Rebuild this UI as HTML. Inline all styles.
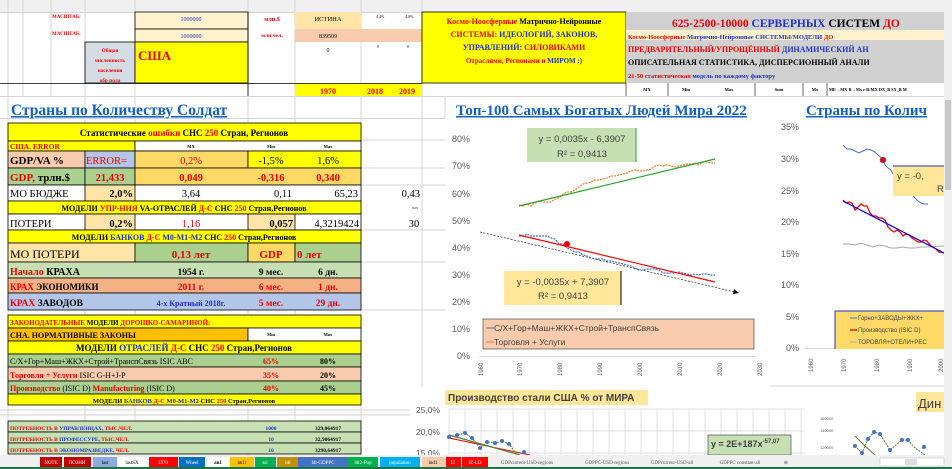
<!DOCTYPE html><html><head><meta charset="utf-8"><style>
body{margin:0;background:#fff}svg{display:block}
</style></head><body>
<svg width="952" height="469" viewBox="0 0 952 469" xmlns="http://www.w3.org/2000/svg" font-family="'Liberation Serif', serif" font-weight="bold">
<rect width="952" height="469" fill="#fff"/>
<rect x="0" y="0" width="952" height="12" fill="#f0f0f0"/>
<g stroke="#d4d4d4" stroke-width="1">
<line x1="0" y1="12.5" x2="952" y2="12.5"/>
<line x1="8" y1="0" x2="8" y2="455"/><line x1="23" y1="0" x2="23" y2="96"/><line x1="51" y1="0" x2="51" y2="96"/>
<line x1="85" y1="0" x2="85" y2="455"/><line x1="135" y1="0" x2="135" y2="455"/><line x1="248" y1="0" x2="248" y2="455"/>
<line x1="295" y1="0" x2="295" y2="455"/><line x1="361" y1="0" x2="361" y2="455"/><line x1="422" y1="0" x2="422" y2="455"/>
<line x1="0" y1="96.5" x2="952" y2="96.5"/>
<line x1="0" y1="118.5" x2="445" y2="118.5"/>
<line x1="361" y1="140" x2="445" y2="140"/><line x1="361" y1="168" x2="445" y2="168"/><line x1="361" y1="185" x2="445" y2="185"/>
<line x1="361" y1="230" x2="445" y2="230"/><line x1="361" y1="262" x2="445" y2="262"/><line x1="361" y1="310" x2="445" y2="310"/>
<line x1="0" y1="415" x2="410" y2="415"/><line x1="0" y1="410" x2="410" y2="410"/>
</g>
<rect x="135" y="12" width="113" height="17" fill="#fff2cc" stroke="#000" stroke-width=".8"/>
<rect x="135" y="29" width="113" height="13" fill="#fff2cc" stroke="#000" stroke-width=".8"/>
<rect x="295" y="12" width="66" height="17" fill="#ffe4a8"/>
<rect x="295" y="29" width="66" height="13" fill="#f8cbad"/>
<rect x="361" y="29" width="61" height="13" fill="#f8cbad"/>
<rect x="85" y="42" width="50" height="41" fill="#d6dce4" stroke="#000" stroke-width=".8"/>
<rect x="135" y="42" width="113" height="41" fill="#ffff00" stroke="#000" stroke-width=".8"/>
<rect x="295" y="83" width="127" height="13" fill="#ffff00"/>
<line x1="0" y1="83.5" x2="422" y2="83.5" stroke="#000" stroke-width=".8"/>
<line x1="248" y1="12" x2="248" y2="96" stroke="#000" stroke-width=".8"/>
<text x="52" y="18" font-size="5" fill="#e00">МАСШТАБ:</text>
<text x="52" y="35" font-size="5" fill="#e00">МАСШТАБ:</text>
<text x="191" y="21" font-size="6" fill="#2030c0" text-anchor="middle" font-weight="normal">1000000</text>
<text x="191" y="38" font-size="6" fill="#2030c0" text-anchor="middle" font-weight="normal">1000000</text>
<text x="272" y="21" font-size="6" fill="#e00" text-anchor="middle">млн.$</text>
<text x="272" y="37" font-size="5.5" fill="#e00" text-anchor="middle">млн.чел.</text>
<text x="328" y="21" font-size="6.5" text-anchor="middle" font-weight="normal">ИСТИНА</text>
<text x="328" y="38" font-size="6" text-anchor="middle" font-weight="normal">839509</text>
<text x="328" y="52" font-size="6" text-anchor="middle" font-weight="normal">0</text>
<text x="376" y="18" font-size="4" font-weight="normal">4,4%</text><text x="405" y="18" font-size="4" font-weight="normal">4,0%</text>
<text x="377" y="48" font-size="4" font-weight="normal">0</text><text x="407" y="48" font-size="4" font-weight="normal">0</text>
<text x="110" y="52" font-size="5.3" fill="#e00" text-anchor="middle">Общая</text>
<text x="110" y="62" font-size="5.3" fill="#e00" text-anchor="middle">численность</text>
<text x="110" y="72" font-size="5.3" fill="#e00" text-anchor="middle">населения</text>
<text x="110" y="82" font-size="5.3" fill="#e00" text-anchor="middle">обр пола</text>
<text x="138" y="60" font-size="13" fill="#e00">США</text>
<text x="328" y="94" font-size="8" fill="#e00" text-anchor="middle">1970</text>
<text x="375" y="94" font-size="8" fill="#e00" text-anchor="middle">2018</text>
<text x="407" y="94" font-size="8" fill="#e00" text-anchor="middle">2019</text>
<rect x="422" y="12" width="204" height="71" fill="#ffff00" stroke="#000" stroke-width=".8"/>
<text x="524" y="24" font-size="8" text-anchor="middle"><tspan fill="#e00">Космо-Ноосферные</tspan> Матрично-Нейронные</text>
<text x="524" y="37" font-size="8" text-anchor="middle"><tspan fill="#e00">СИСТЕМЫ:</tspan> <tspan fill="#2030c0">ИДЕОЛОГИЙ, ЗАКОНОВ,</tspan></text>
<text x="524" y="50" font-size="8" text-anchor="middle"><tspan fill="#2030c0">УПРАВЛЕНИЙ:</tspan> <tspan fill="#e00">СИЛОВИКАМИ</tspan></text>
<text x="524" y="63" font-size="7" text-anchor="middle"><tspan fill="#e00">Отраслями, Регионами и</tspan> <tspan fill="#2030c0">МИРОМ :)</tspan></text>
<rect x="626" y="12" width="318" height="71" fill="#d0d0d0"/>
<rect x="626" y="30" width="318" height="10" fill="#fff2cc"/>
<text x="672" y="27" font-size="11.5"><tspan fill="#e00">625-2500-10000</tspan> <tspan fill="#2030c0">СЕРВЕРНЫХ</tspan> СИСТЕМ <tspan fill="#e00">ДО</tspan></text>
<text x="628" y="39" font-size="6.5"><tspan fill="#e00">Космо-Ноосферные</tspan> <tspan fill="#2030c0">Матрично-Нейронные СИСТЕМЫ/МОДЕЛИ</tspan> <tspan fill="#e00">ДО</tspan></text>
<text x="628" y="52" font-size="8"><tspan fill="#e00">ПРЕДВАРИТЕЛЬНЫЙ/УПРОЩЁННЫЙ</tspan> <tspan fill="#2030c0">ДИНАМИЧЕСКИЙ АН</tspan></text>
<text x="628" y="65" font-size="8">ОПИСАТЕЛЬНАЯ СТАТИСТИКА, ДИСПЕРСИОННЫЙ АНАЛИ</text>
<text x="628" y="78" font-size="6.5"><tspan fill="#e00">21-50 статистическая</tspan> <tspan fill="#2030c0">модель по каждому фактору</tspan></text>
<g stroke="#000" stroke-width=".6"><line x1="626" y1="83" x2="626" y2="96"/><line x1="668" y1="83" x2="668" y2="96"/><line x1="755" y1="83" x2="755" y2="96"/><line x1="803" y1="83" x2="803" y2="96"/><line x1="827" y1="83" x2="827" y2="96"/></g>
<text x="647" y="91" font-size="4.5" text-anchor="middle">MX</text><text x="686" y="91" font-size="4.5" text-anchor="middle">Min</text><text x="729" y="91" font-size="4.5" text-anchor="middle">Max</text><text x="779" y="91" font-size="4.5" text-anchor="middle">Sum</text>
<text x="815" y="91" font-size="4.5" text-anchor="middle">Mx</text><text x="829" y="91" font-size="4.3">ME→MX R→Mx r-R/MX DX_B SX_B M</text>
<text x="11" y="115" font-size="15.5" fill="#1060c0" text-decoration="underline">Страны по Количеству Солдат</text>
<text x="456" y="115" font-size="15" fill="#1060c0" text-decoration="underline">Топ-100 Самых Богатых Людей Мира 2022</text>
<text x="806" y="115" font-size="15" fill="#1060c0" text-decoration="underline">Страны по Колич</text>
<line x1="445" y1="97" x2="445" y2="118" stroke="#d4d4d4"/>
<g stroke="#000" stroke-width=".8">
<rect x="8" y="123" width="353" height="18" fill="#ffff00"/>
<rect x="8" y="141" width="127" height="10" fill="#ffff00"/>
<rect x="135" y="141" width="226" height="10" fill="#fff"/>
<rect x="8" y="151" width="77" height="17" fill="#f8cbad"/>
<rect x="85" y="151" width="50" height="17" fill="#b4c6e7"/>
<rect x="135" y="151" width="113" height="17" fill="#ffd966"/>
<rect x="248" y="151" width="113" height="17" fill="#ffff00"/>
<rect x="8" y="168" width="77" height="17" fill="#a9d08e"/>
<rect x="85" y="168" width="50" height="17" fill="#a9d08e"/>
<rect x="135" y="168" width="226" height="17" fill="#ffd966"/>
<rect x="8" y="185" width="353" height="16" fill="#fff"/>
<rect x="85" y="185" width="50" height="16" fill="#ffe4a8"/>
<rect x="8" y="201" width="353" height="13" fill="#ffff00"/>
<rect x="8" y="214" width="353" height="16" fill="#fff"/>
<rect x="85" y="214" width="50" height="16" fill="#ffe4a8"/>
<rect x="248" y="214" width="47" height="16" fill="#ffe4a8"/>
<rect x="8" y="230" width="353" height="13" fill="#ffff00"/>
<rect x="8" y="243" width="127" height="19" fill="#ffe4a8"/>
<rect x="135" y="243" width="113" height="19" fill="#a9d08e"/>
<rect x="248" y="243" width="47" height="19" fill="#ffd966"/>
<rect x="295" y="243" width="66" height="19" fill="#a9d08e"/>
<rect x="8" y="262" width="353" height="16" fill="#c6e0b4"/>
<rect x="8" y="278" width="353" height="15" fill="#f4b183"/>
<rect x="8" y="293" width="353" height="17" fill="#b4c6e7"/>
<rect x="8" y="315" width="353" height="13" fill="#ffff00"/>
<rect x="8" y="328" width="240" height="13" fill="#ffc000"/>
<rect x="248" y="328" width="113" height="13" fill="#fff"/>
<rect x="8" y="341" width="353" height="13" fill="#ffff00"/>
<rect x="8" y="354" width="353" height="13" fill="#a9d08e"/>
<rect x="8" y="367" width="353" height="14" fill="#f8cbad"/>
<rect x="8" y="381" width="353" height="13" fill="#a9d08e"/>
<rect x="8" y="394" width="353" height="11" fill="#ffff00"/>
<rect x="8" y="421" width="353" height="11" fill="#c6e0b4"/>
<rect x="8" y="432" width="353" height="11" fill="#c6e0b4"/>
<rect x="8" y="443" width="353" height="11" fill="#c6e0b4"/>
</g>
<text x="184" y="136" font-size="9" text-anchor="middle">Статистические <tspan fill="#e00">ошибки</tspan> СНС <tspan fill="#e00">250</tspan> Стран, Регионов</text>
<text x="10" y="149" font-size="7.5" fill="#e00">США. ERROR</text>
<text x="191" y="148" font-size="4.5" text-anchor="middle">MX</text><text x="271" y="148" font-size="4.5" text-anchor="middle">Min</text><text x="328" y="148" font-size="4.5" text-anchor="middle">Max</text>
<text x="10" y="164" font-size="11">GDP/VA %</text>
<text x="86" y="164" font-size="10.5" fill="#e00" font-weight="normal">ERROR=</text>
<text x="191" y="164" font-size="10.5" fill="#e00" text-anchor="middle" font-weight="normal">0,2%</text>
<text x="271" y="164" font-size="10.5" text-anchor="middle" font-weight="normal">-1,5%</text>
<text x="328" y="164" font-size="10.5" text-anchor="middle" font-weight="normal">1,6%</text>
<text x="10" y="181" font-size="11" fill="#e00">GDP, <tspan fill="#000">трлн.$</tspan></text>
<text x="110" y="181" font-size="10.5" fill="#e00" text-anchor="middle">21,433</text>
<text x="191" y="181" font-size="10.5" fill="#e00" text-anchor="middle">0,049</text>
<text x="271" y="181" font-size="10.5" fill="#e00" text-anchor="middle">-0,316</text>
<text x="328" y="181" font-size="10.5" fill="#e00" text-anchor="middle">0,340</text>
<text x="10" y="197" font-size="10.5" font-weight="normal">МО БЮДЖЕ</text>
<text x="133" y="197" font-size="10.5" text-anchor="end">2,0%</text>
<text x="191" y="197" font-size="10.5" text-anchor="middle" font-weight="normal">3,64</text>
<text x="292" y="197" font-size="10.5" text-anchor="end" font-weight="normal">0,11</text>
<text x="358" y="197" font-size="10.5" text-anchor="end" font-weight="normal">65,23</text>
<text x="420" y="197" font-size="10.5" text-anchor="end" font-weight="normal">0,43</text>
<text x="184" y="211" font-size="8" text-anchor="middle">МОДЕЛИ <tspan fill="#e00">УПР-НИЯ</tspan> VA-ОТРАСЛЕЙ <tspan fill="#e00">Д-С</tspan> СНС <tspan fill="#e00">250</tspan> Стран,Регионов</text>
<text x="412" y="209" font-size="3.5" font-weight="normal">0,05</text>
<text x="10" y="227" font-size="10.5" font-weight="normal">ПОТЕРИ</text>
<text x="133" y="227" font-size="10.5" text-anchor="end">0,2%</text>
<text x="191" y="227" font-size="10.5" fill="#e00" text-anchor="middle" font-weight="normal">1,16</text>
<text x="293" y="227" font-size="10.5" text-anchor="end">0,057</text>
<text x="359" y="227" font-size="10.5" text-anchor="end" font-weight="normal">4,3219424</text>
<text x="414" y="227" font-size="10.5" text-anchor="middle" font-weight="normal">30</text>
<text x="184" y="240" font-size="8" text-anchor="middle">МОДЕЛИ <tspan fill="#2030c0">БАНКОВ</tspan> <tspan fill="#e00">Д-С</tspan> <tspan fill="#2030c0">M0-M1-M2</tspan> СНС <tspan fill="#e00">250</tspan> Стран,Регионов</text>
<text x="10" y="258" font-size="12" font-weight="normal">МО ПОТЕРИ</text>
<text x="191" y="258" font-size="11" fill="#e00" text-anchor="middle">0,13 лет</text>
<text x="271" y="258" font-size="11" fill="#e00" text-anchor="middle">GDP</text>
<text x="297" y="258" font-size="11" fill="#e00">0 лет</text>
<text x="10" y="275" font-size="10"><tspan fill="#e00">Начало</tspan> КРАХА</text>
<text x="191" y="275" font-size="9.5" text-anchor="middle">1954 г.</text>
<text x="271" y="275" font-size="9.5" text-anchor="middle">9 мес.</text>
<text x="328" y="275" font-size="9.5" text-anchor="middle">6 дн.</text>
<text x="10" y="290" font-size="9"><tspan fill="#e00">КРАХ</tspan> ЭКОНОМИКИ</text>
<text x="191" y="290" font-size="9.5" fill="#e00" text-anchor="middle">2011 г.</text>
<text x="271" y="290" font-size="9.5" fill="#e00" text-anchor="middle">6 мес.</text>
<text x="328" y="290" font-size="9.5" fill="#e00" text-anchor="middle">1 дн.</text>
<text x="10" y="306" font-size="9.5"><tspan fill="#e00">КРАХ</tspan> ЗАВОДОВ</text>
<text x="191" y="306" font-size="8" fill="#2030c0" text-anchor="middle">4-х Кратный 2018г.</text>
<text x="271" y="306" font-size="9.5" fill="#e00" text-anchor="middle">5 мес.</text>
<text x="328" y="306" font-size="9.5" fill="#e00" text-anchor="middle">29 дн.</text>
<text x="10" y="325" font-size="7"><tspan fill="#e00">ЗАКОНОДАТЕЛЬНЫЕ</tspan> МОДЕЛИ <tspan fill="#e00">ДОРОШКО-САМАРИНОЙ:</tspan></text>
<text x="10" y="338" font-size="8">СНА. НОРМАТИВНЫЕ ЗАКОНЫ</text>
<text x="271" y="336" font-size="4.5" text-anchor="middle">Min</text><text x="328" y="336" font-size="4.5" text-anchor="middle">Max</text>
<text x="184" y="351" font-size="9" text-anchor="middle">МОДЕЛИ <tspan fill="#2030c0">ОТРАСЛЕЙ</tspan> <tspan fill="#e00">Д-С</tspan> СНС <tspan fill="#e00">250</tspan> Стран,Регионов</text>
<text x="10" y="364" font-size="8" font-weight="normal">С/Х+Гор+Маш+ЖКХ+Строй+ТранспСвязь ISIC ABC</text>
<text x="271" y="364" font-size="8" fill="#e00" text-anchor="middle">65%</text><text x="328" y="364" font-size="8" text-anchor="middle">80%</text>
<text x="10" y="378" font-size="8" font-weight="normal"><tspan fill="#e00" font-weight="bold">Торговля + Услуги</tspan> ISIC G-H+J-P</text>
<text x="271" y="378" font-size="8" fill="#e00" text-anchor="middle">35%</text><text x="328" y="378" font-size="8" text-anchor="middle">20%</text>
<text x="10" y="391" font-size="8" font-weight="normal"><tspan fill="#e00" font-weight="bold">Производство</tspan> (ISIC D) <tspan fill="#e00" font-weight="bold">Manufacturing</tspan> (ISIC D)</text>
<text x="271" y="391" font-size="8" fill="#e00" text-anchor="middle">40%</text><text x="328" y="391" font-size="8" text-anchor="middle">45%</text>
<text x="184" y="403" font-size="6.5" text-anchor="middle">МОДЕЛИ <tspan fill="#2030c0">БАНКОВ</tspan> <tspan fill="#e00">Д-С</tspan> <tspan fill="#2030c0">M0-M1-M2</tspan> СНС <tspan fill="#e00">250</tspan> Стран,Регионов</text>
<text x="10" y="430" font-size="5.5" fill="#e00">ПОТРЕБНОСТЬ В <tspan fill="#2030c0">УПРАВЛЕНЦАХ,</tspan> ТЫС.ЧЕЛ.</text>
<text x="10" y="441" font-size="5.5" fill="#e00">ПОТРЕБНОСТЬ В <tspan fill="#2030c0">ПРОФЕССУРЕ,</tspan> ТЫС.ЧЕЛ.</text>
<text x="10" y="452" font-size="5.5" fill="#e00">ПОТРЕБНОСТЬ В <tspan fill="#2030c0">ЭКОНОМРАЗВЕДКЕ,</tspan> ЧЕЛ.</text>
<g font-size="5.5" text-anchor="middle"><text x="271" y="430" fill="#2030c0">1000</text><text x="271" y="441" fill="#2030c0">10</text><text x="271" y="452" fill="#2030c0">10</text>
<text x="328" y="430">329,064917</text><text x="328" y="441">32,9064917</text><text x="328" y="452">3290,64917</text></g>
<!-- chart 1 -->
<rect x="446" y="121" width="314" height="265" fill="#fff"/>
<g font-family="'Liberation Sans', sans-serif" font-weight="normal" font-size="9" fill="#595959" text-anchor="end">
<text x="470" y="142">80%</text><text x="470" y="169">70%</text><text x="470" y="197">60%</text><text x="470" y="224">50%</text><text x="470" y="251">40%</text><text x="470" y="278">30%</text><text x="470" y="305">20%</text><text x="470" y="332">10%</text><text x="470" y="359">0%</text>
</g>
<line x1="479" y1="356.5" x2="757" y2="356.5" stroke="#d9d9d9"/>
<g font-family="'Liberation Sans', sans-serif" font-weight="normal" font-size="6" fill="#595959">
<text transform="translate(483,376) rotate(-90)">1960</text><text transform="translate(522,376) rotate(-90)">1970</text><text transform="translate(562,376) rotate(-90)">1980</text><text transform="translate(602,376) rotate(-90)">1990</text><text transform="translate(642,376) rotate(-90)">2000</text><text transform="translate(682,376) rotate(-90)">2010</text><text transform="translate(722,376) rotate(-90)">2020</text><text transform="translate(762,376) rotate(-90)">2030</text>
</g>
<polyline fill="none" stroke="#ed7d31" stroke-width="1.2" stroke-dasharray="2,1" points="519,205 523,206 527,204 531,206 535,203 539,201 543,202 547,202 551,202 555,199 559,198 563,194 567,192 571,192 575,190 579,187 583,184 587,183 591,182 595,180 599,180 603,179 607,178 611,176 615,176 619,175 623,174 627,173 631,171 635,170 639,171 643,171 647,170 651,169 655,166 659,165 663,166 667,165 671,166 675,167 679,166 683,165 687,164 691,164 695,163 699,165 703,162 707,162 711,163 715,163"/>
<line x1="519" y1="206" x2="715" y2="159" stroke="#28a028" stroke-width="1.2"/>
<line x1="480" y1="232" x2="739" y2="293" stroke="#000" stroke-width=".6" stroke-dasharray="2,1.5"/>
<polygon points="739,293 734,289 733,294" fill="#000"/>
<polyline fill="none" stroke="#4472c4" stroke-width="1.2" stroke-dasharray="2,1" points="519,236 523,236 527,234 531,236 535,236 539,236 543,236 547,236 551,238 555,239 559,244 563,244 567,248 571,250 575,252 579,252 583,255 587,256 591,258 595,259 603,259 607,261 611,261 615,262 619,263 623,264 627,265 631,266 635,268 639,270 643,270 647,269 651,269 655,269 659,270 663,273 667,273 671,273 675,273 679,272 683,273 687,274 691,275 695,274 699,275 703,274 707,274 711,275 715,275"/>
<line x1="519" y1="235" x2="715" y2="282" stroke="#ff0000" stroke-width="1.2"/>
<circle cx="567" cy="244" r="3" fill="#e00"/>
<rect x="527" y="128" width="109" height="34" fill="#c6e0b4"/>
<line x1="636" y1="128" x2="636" y2="162" stroke="#28a028"/>
<g font-family="'Liberation Sans', sans-serif" font-weight="normal" font-size="9.5" fill="#404040" text-anchor="middle">
<text x="582" y="142">y = 0,0035x - 6,3907</text><text x="582" y="157">R² = 0,9413</text></g>
<rect x="504" y="271" width="117" height="34" fill="#ffe699"/>
<line x1="621" y1="271" x2="621" y2="305" stroke="#000"/>
<g font-family="'Liberation Sans', sans-serif" font-weight="normal" font-size="9.5" fill="#404040" text-anchor="middle">
<text x="563" y="285">y = -0,0035x + 7,3907</text><text x="563" y="299">R² = 0,9413</text></g>
<rect x="483" y="319" width="271" height="30" fill="#f8cbad" stroke="#333" stroke-width=".6"/>
<g font-family="'Liberation Sans', sans-serif" font-weight="normal" font-size="8.5" fill="#404040">
<line x1="486" y1="328" x2="494" y2="328" stroke="#4472c4"/><text x="494" y="331">С/Х+Гор+Маш+ЖКХ+Строй+ТранспСвязь</text>
<line x1="486" y1="342" x2="494" y2="342" stroke="#ed7d31"/><text x="494" y="345">Торговля + Услуги</text></g>
<!-- chart 2 -->
<rect x="770" y="120" width="174" height="178" fill="#fff"/>
<g font-family="'Liberation Sans', sans-serif" font-weight="normal" font-size="9" fill="#595959" text-anchor="end">
<text x="799" y="130">35%</text><text x="799" y="162">30%</text><text x="799" y="194">25%</text><text x="799" y="225">20%</text><text x="799" y="257">15%</text><text x="799" y="288">10%</text><text x="799" y="320">5%</text><text x="799" y="351">0%</text></g>
<line x1="805" y1="348.5" x2="944" y2="348.5" stroke="#d9d9d9"/>
<g font-family="'Liberation Sans', sans-serif" font-weight="normal" font-size="6" fill="#595959">
<text transform="translate(813,372) rotate(-90)">1960</text><text transform="translate(846,372) rotate(-90)">1970</text><text transform="translate(879,372) rotate(-90)">1980</text><text transform="translate(912,372) rotate(-90)">1990</text><text transform="translate(943,372) rotate(-90)">2000</text></g>
<polyline fill="none" stroke="#4472c4" points="843,145 847,149 851,149 855,151 859,153 863,151 867,149 871,150 875,152 879,156 882,158 885,165 888,168 891,170 894,176 897,178 900,178 903,183 906,189 909,191 912,194 915,198 918,201 921,203 924,204 928,204"/>
<circle cx="883" cy="160" r="3" fill="#e00" stroke="#4472c4" stroke-width=".6"/>
<polyline fill="none" stroke="#a6a6a6" points="843,244 849,244 855,245 861,243 867,245 873,247 879,245 885,246 891,248 897,248 903,247 909,248 915,248 921,247 928,247 944,246"/>
<polyline fill="none" stroke="#ff0000" stroke-width="1.3" points="843,200 846,203 849,202 852,203 855,210 858,207 861,204 864,206 867,206 870,213 873,216 876,216 879,218 882,218 885,220 888,227 891,230 894,232 897,230 900,232 903,236 906,234 909,235 912,238 915,240 918,242 921,242 924,240 927,241 930,245 933,247 936,249 939,252 944,253"/>
<line x1="843" y1="201" x2="944" y2="253" stroke="#0000e0" stroke-width="1.2"/>
<rect x="893" y="166" width="51" height="30" fill="#ffe699"/>
<line x1="893" y1="166" x2="944" y2="166" stroke="#2030c0"/>
<g font-family="'Liberation Sans', sans-serif" font-weight="normal" font-size="9.5" fill="#404040"><text x="897" y="179">y = -0,</text><text x="937" y="192">R</text></g>
<rect x="835" y="311" width="109" height="38" fill="#ffd966"/>
<line x1="835" y1="311" x2="835" y2="349" stroke="#2030c0"/>
<line x1="835" y1="311" x2="944" y2="311" stroke="#2030c0"/>
<g font-family="'Liberation Sans', sans-serif" font-weight="normal" font-size="6" fill="#404040">
<line x1="850" y1="318" x2="857" y2="318" stroke="#4472c4"/><text x="858" y="320">Горно+ЗАВОДЫ+ЖКХ+</text>
<line x1="850" y1="330" x2="857" y2="330" stroke="#e00" stroke-width="1.3"/><text x="858" y="332">Производство (ISIC D)</text>
<line x1="850" y1="342" x2="857" y2="342" stroke="#a6a6a6"/><text x="858" y="344">ТОРОВЛЯ+ОТЕЛИ+РЕС</text></g>
<line x1="770" y1="386" x2="944" y2="386" stroke="#d4d4d4"/>
<!-- bottom chart -->
<rect x="413" y="387" width="395" height="68" fill="#fff"/>
<g stroke="#d9d9d9" stroke-width=".8">
<line x1="449" y1="409" x2="805" y2="409"/><line x1="449" y1="431" x2="805" y2="431"/><line x1="449" y1="453" x2="805" y2="453"/>
<line x1="449" y1="409" x2="449" y2="455"/><line x1="465" y1="409" x2="465" y2="455"/><line x1="481" y1="409" x2="481" y2="455"/><line x1="497" y1="409" x2="497" y2="455"/><line x1="513" y1="409" x2="513" y2="455"/><line x1="529" y1="409" x2="529" y2="455"/><line x1="545" y1="409" x2="545" y2="455"/><line x1="561" y1="409" x2="561" y2="455"/><line x1="577" y1="409" x2="577" y2="455"/><line x1="593" y1="409" x2="593" y2="455"/><line x1="609" y1="409" x2="609" y2="455"/><line x1="625" y1="409" x2="625" y2="455"/><line x1="641" y1="409" x2="641" y2="455"/><line x1="657" y1="409" x2="657" y2="455"/><line x1="673" y1="409" x2="673" y2="455"/><line x1="689" y1="409" x2="689" y2="455"/><line x1="705" y1="409" x2="705" y2="455"/><line x1="721" y1="409" x2="721" y2="455"/><line x1="737" y1="409" x2="737" y2="455"/><line x1="753" y1="409" x2="753" y2="455"/><line x1="769" y1="409" x2="769" y2="455"/><line x1="785" y1="409" x2="785" y2="455"/><line x1="801" y1="409" x2="801" y2="455"/>
</g>
<rect x="445" y="390" width="203" height="15" fill="#ffe699"/>
<text x="448" y="401" font-family="'Liberation Sans', sans-serif" font-size="10" fill="#404040">Производство стали США % от МИРА</text>
<g font-family="'Liberation Sans', sans-serif" font-weight="normal" font-size="8.5" fill="#595959" text-anchor="end">
<text x="440" y="413">25,0%</text><text x="440" y="435">20,0%</text><text x="440" y="456">15,0%</text></g>
<line x1="449" y1="438" x2="530" y2="455" stroke="#e00"/>
<line x1="449" y1="435" x2="520" y2="455" stroke="#548235" stroke-width="1.2"/>
<polyline fill="none" stroke="#548235" stroke-dasharray="2,1" points="449,437 457,435 465,433 472,438 480,448 487,442 495,443 502,441 509,444 517,455 524,452"/>
<g fill="#4472c4"><circle cx="449" cy="437" r="2"/><circle cx="457" cy="435" r="2"/><circle cx="465" cy="433" r="2"/><circle cx="472" cy="438" r="2"/><circle cx="480" cy="448" r="2"/><circle cx="487" cy="442" r="2"/><circle cx="495" cy="443" r="2"/><circle cx="502" cy="441" r="2"/><circle cx="509" cy="444" r="2"/><circle cx="524" cy="452" r="2"/></g>
<rect x="708" y="435" width="83" height="20" fill="#c6e0b4" stroke="#333" stroke-width=".6"/>
<text x="711" y="447" font-family="'Liberation Sans', sans-serif" font-size="9" fill="#404040">y = 2E+187x<tspan font-size="6" dy="-4">-57,07</tspan></text>
<!-- bottom right chart -->
<rect x="818" y="392" width="126" height="63" fill="#fff"/>
<rect x="916" y="392" width="28" height="20" fill="#ffe699"/>
<text x="918" y="408" font-family="'Liberation Sans', sans-serif" font-weight="normal" font-size="13" fill="#404040">Дин</text>
<g font-family="'Liberation Sans', sans-serif" font-weight="normal" font-size="4" fill="#595959"><text x="820" y="420">160000</text><text x="820" y="432">140000</text><text x="820" y="449">120000</text></g>
<polyline fill="none" stroke="#548235" stroke-dasharray="2,1" points="855,446 862,453 868,439 874,432 880,434 890,450 902,440 908,440 914,447 925,455"/>
<polyline fill="none" stroke="#548235" points="855,436 865,446 875,455"/>
<g fill="#4472c4"><circle cx="855" cy="446" r="2"/><circle cx="862" cy="453" r="2"/><circle cx="868" cy="439" r="2"/><circle cx="874" cy="432" r="2"/><circle cx="880" cy="434" r="2"/><circle cx="890" cy="450" r="2"/><circle cx="902" cy="440" r="2"/><circle cx="908" cy="440" r="2"/><circle cx="924" cy="447" r="2"/></g>
<rect x="944" y="12" width="8" height="443" fill="#f0f0f0"/>
<rect x="945" y="100" width="6" height="90" fill="#c8c8c8"/>
<!-- tabs -->
<rect x="0" y="455" width="952" height="12" fill="#f0f0f0"/>
<rect x="0" y="467" width="952" height="2" fill="#217346"/>
<g font-size="5" text-anchor="middle" fill="#fff" font-weight="normal">
<rect x="40" y="457" width="22" height="10" fill="#c00000"/><text x="51" y="464">NOTE</text>
<rect x="64" y="457" width="27" height="10" fill="#c00000"/><text x="77" y="464">ПОЗНИ</text>
<rect x="93" y="457" width="24" height="10" fill="#8eaadb"/><text x="105" y="464" fill="#000">last</text>
<rect x="119" y="457" width="27" height="10" fill="#fff"/><text x="132" y="464" fill="#000">lastSX</text>
<rect x="149" y="457" width="29" height="10" fill="#ff0000"/><text x="163" y="464">1970</text>
<rect x="179" y="457" width="26" height="10" fill="#0070c0"/><text x="192" y="464">Wheel</text>
<rect x="207" y="457" width="22" height="10" fill="#fff"/><text x="218" y="464" fill="#000" font-weight="bold">an1</text>
<rect x="230" y="457" width="24" height="10" fill="#ffc000"/><text x="242" y="464" fill="#000">an1r</text>
<rect x="255" y="457" width="21" height="10" fill="#00b050"/><text x="265" y="464">ssi</text>
<rect x="277" y="457" width="23" height="10" fill="#bf9000"/><text x="288" y="464">ldr</text>
<rect x="298" y="457" width="50" height="10" fill="#4472c4"/><text x="323" y="464">ldt-GDPPC</text>
<rect x="348" y="457" width="30" height="10" fill="#00b050"/><text x="363" y="464">ldt2-Pop</text>
<rect x="380" y="457" width="40" height="10" fill="#00b0f0"/><text x="400" y="464">population</text>
<rect x="422" y="457" width="23" height="10" fill="#f8cbad"/><text x="433" y="464" fill="#000">ind1</text>
<rect x="446" y="457" width="15" height="10" fill="#ff0000"/><text x="453" y="464">IZ</text>
<rect x="462" y="457" width="26" height="10" fill="#ff0000"/><text x="475" y="464">IZ-LD</text>
<text x="527" y="464" fill="#555">GDPcurrent-USD-regions</text>
<text x="607" y="464" fill="#555">GDPPC-USD-regions</text>
<text x="672" y="464" fill="#555">GDPcurrent-USD-all</text>
<text x="740" y="464" fill="#555">GDPPC constant-all</text>
<text x="786" y="464" fill="#555">⊕</text>
</g>
<rect x="880" y="458" width="64" height="8" fill="#fff" stroke="#bbb" stroke-width=".5"/>
<rect x="905" y="459" width="12" height="6" fill="#ddd"/>
</svg>
</body></html>
